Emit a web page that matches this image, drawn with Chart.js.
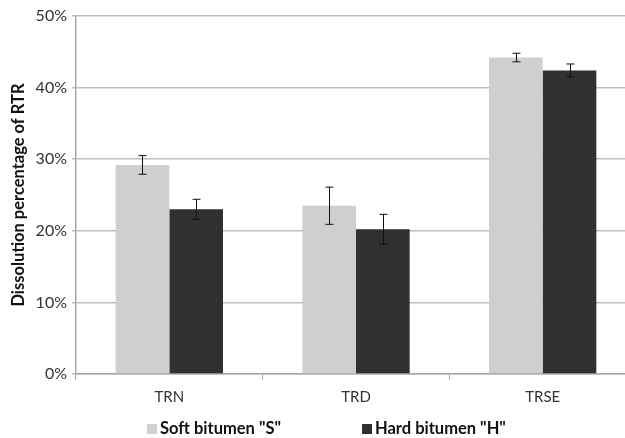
<!DOCTYPE html>
<html>
<head>
<meta charset="utf-8">
<script src="https://cdn.jsdelivr.net/npm/chart.js@4"></script>
<style>
html, body { margin: 0; padding: 0; background: #fff; overflow: hidden; }
#wrap { width: 640px; height: 438px; }
</style>
</head>
<body>
<div id="wrap"><canvas id="myChart" width="640" height="438"></canvas></div>
<script>
var categories = ["TRN", "TRD", "TRSE"];
var softValues = [29.2, 23.5, 44.2];
var softErrors = [1.3, 2.6, 0.6];
var hardValues = [23.0, 20.2, 42.4];
var hardErrors = [1.4, 2.1, 0.9];
var yTicks = [0, 10, 20, 30, 40, 50];

var errorBars = {
  id: 'errorBars',
  afterDatasetsDraw: function(chart) {
    var ctx = chart.ctx;
    var y = chart.scales.y;
    ctx.save();
    ctx.strokeStyle = '#111';
    ctx.lineWidth = 1;
    chart.data.datasets.forEach(function(ds, i) {
      var meta = chart.getDatasetMeta(i);
      meta.data.forEach(function(bar, j) {
        var top = y.getPixelForValue(ds.data[j] + ds.errors[j]);
        var bot = y.getPixelForValue(ds.data[j] - ds.errors[j]);
        var x = Math.round(bar.x) + 0.5;
        ctx.beginPath();
        ctx.moveTo(x, top); ctx.lineTo(x, bot);
        ctx.moveTo(x - 4, top); ctx.lineTo(x + 4, top);
        ctx.moveTo(x - 4, bot); ctx.lineTo(x + 4, bot);
        ctx.stroke();
      });
    });
    ctx.restore();
  }
};

// legend drawn by hand so the spacing matches
var bottomLegend = {
  id: 'bottomLegend',
  afterDraw: function(chart) {
    var ctx = chart.ctx;
    var pos = [147, 362];
    ctx.save();
    ctx.font = 'bold 16.5px Lato';
    ctx.textBaseline = 'middle';
    chart.data.datasets.forEach(function(ds, i) {
      ctx.fillStyle = ds.backgroundColor;
      ctx.fillRect(pos[i], 424, 10, 10);
      ctx.fillStyle = '#111';
      ctx.fillText(ds.label, pos[i] + 13, 429);
    });
    ctx.restore();
  }
};

var ctx = document.getElementById("myChart").getContext('2d');
var myChart = new Chart(ctx, {
  type: 'bar',
  data: {
    labels: categories,
    datasets: [
      { label: 'Soft bitumen "S"', data: softValues, errors: softErrors, backgroundColor: '#cfcfcf' },
      { label: 'Hard bitumen "H"', data: hardValues, errors: hardErrors, backgroundColor: '#303030' }
    ]
  },
  options: {
    responsive: false,
    animation: false,
    categoryPercentage: 0.575,
    barPercentage: 1.0,
    layout: { padding: { top: 16, right: 4, left: 9, bottom: 0 } },
    plugins: {
      legend: { display: false },
      tooltip: { enabled: false }
    },
    scales: {
      x: {
        grid: { offset: true, drawOnChartArea: false, drawTicks: true, tickLength: 6, color: '#a8a8a8' },
        border: { color: '#a8a8a8', width: 1.5 },
        ticks: { color: '#333', font: { family: 'Lato', size: 15 }, padding: 8 },
        afterFit: function(s) { s.height = 64; }
      },
      y: {
        min: 0, max: 50,
        afterBuildTicks: function(s) { s.ticks = yTicks.map(function(v) { return { value: v }; }); },
        grid: { color: '#bdbdbd', lineWidth: 1.5, tickLength: 4 },
        border: { color: '#a8a8a8', width: 1.5 },
        ticks: {
          color: '#333', font: { family: 'Lato', size: 16 }, padding: 5,
          callback: function(v) { return v + '%'; }
        },
        title: {
          display: true, text: 'Dissolution percentage of RTR', color: '#111',
          font: { family: 'Lato', size: 16.5, weight: 'bold' }, padding: { top: 0, bottom: 2 }
        },
        afterFit: function(s) { s.width = 67; }
      }
    }
  },
  plugins: [errorBars, bottomLegend]
});
</script>
</body>
</html>
